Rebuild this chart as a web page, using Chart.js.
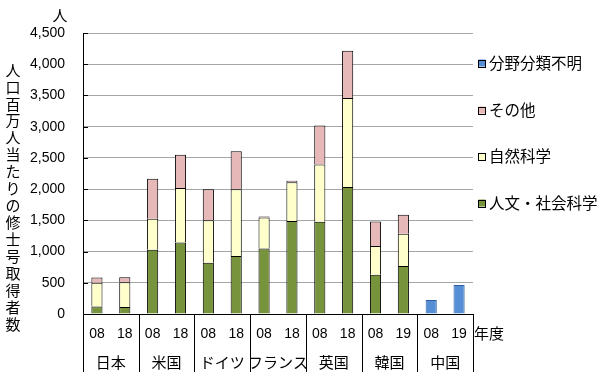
<!DOCTYPE html>
<html>
<head>
<meta charset="utf-8">
<script src="https://cdn.jsdelivr.net/npm/chart.js@4/dist/chart.umd.min.js"></script>
<style>
html,body{margin:0;padding:0;background:#fff;}
#wrap{width:600px;height:372px;position:relative;}
</style>
</head>
<body>
<div id="wrap"><canvas id="c" width="600" height="372"></canvas></div>
<script>
const categories = ['08','18','08','18','08','18','08','18','08','18','08','19','08','19'];
const groups = ['日本','米国','ドイツ','フランス','英国','韓国','中国'];
const humanities = [120, 112, 1030, 1147, 822, 928, 1050, 1489, 1478, 2034, 629, 769, null, null];
const science    = [380, 395, 496, 871, 678, 1068, 495, 620, 918, 1425, 460, 517, null, null];
const other      = [85, 80, 641, 533, 496, 609, 15, 25, 624, 758, 394, 304, null, null];
const unknown    = [null, null, null, null, null, null, null, null, null, null, null, null, 224, 464];
const seriesNames = ['人文・社会科学','自然科学','その他','分野分類不明'];
const yTitle = '人口百万人当たりの修士号取得者数';
const yUnit = '人';
const xUnit = '年度';

const CJK = '"Noto Sans CJK JP", sans-serif';
const NUM = '"Liberation Sans", Arial, sans-serif';

const deco = {
  id: 'deco',
  afterDraw(chart) {
    const ctx = chart.ctx, xs = chart.scales.x, ys = chart.scales.y, ca = chart.chartArea;
    ctx.save();
    ctx.strokeStyle = '#000'; ctx.lineWidth = 1;
    ys.ticks.forEach(t => {
      const py = Math.round(ys.getPixelForValue(t.value)) + 0.5;
      ctx.beginPath(); ctx.moveTo(ca.left, py); ctx.lineTo(ca.left + 5, py); ctx.stroke();
    });
    const half = (xs.getPixelForValue(1) - xs.getPixelForValue(0)) / 2;
    for (let g = 0; g <= groups.length; g++) {
      const px = g < groups.length ? xs.getPixelForValue(g * 2) - half : xs.getPixelForValue(g * 2 - 1) + half;
      const rx = Math.round(px) + 0.5;
      ctx.beginPath(); ctx.moveTo(rx, ca.bottom); ctx.lineTo(rx, chart.height); ctx.stroke();
    }
    ctx.fillStyle = '#000';
    ctx.font = '15px ' + CJK;
    ctx.textAlign = 'center'; ctx.textBaseline = 'middle';
    groups.forEach((g, i) => {
      const cx = (xs.getPixelForValue(i * 2) + xs.getPixelForValue(i * 2 + 1)) / 2;
      ctx.fillText(g, cx, 362);
    });
    ctx.textAlign = 'left';
    ctx.fillText(xUnit, ca.right + 1, 333);
    ctx.textAlign = 'center';
    ctx.fillText(yUnit, 60, 15);
    const chars = Array.from(yTitle);
    chars.forEach((ch, i) => {
      ctx.fillText(ch, 13, 70 + i * 16.93);
    });
    ctx.font = '15.5px ' + CJK;
    const ly = [63, 110, 156.5, 203];
    const ds = chart.data.datasets.slice().reverse();
    ds.forEach((d, i) => {
      const y = ly[i];
      ctx.fillStyle = d.backgroundColor;
      ctx.fillRect(478.5, y - 3.5, 7, 7);
      ctx.strokeStyle = '#000';
      ctx.strokeRect(478.5, Math.round(y - 3.5) + 0.5, 7, 7);
      ctx.fillStyle = '#000';
      ctx.textAlign = 'left';
      ctx.fillText(d.label, 489, y);
    });
    ctx.restore();
  }
};

new Chart(document.getElementById('c'), {
  type: 'bar',
  data: {
    labels: categories,
    datasets: [
      { label: seriesNames[0], data: humanities, backgroundColor: '#77933C', borderColor: '#000', borderWidth: 1 },
      { label: seriesNames[1], data: science, backgroundColor: '#FFFFCC', borderColor: '#000', borderWidth: 1 },
      { label: seriesNames[2], data: other, backgroundColor: '#E6B9B8', borderColor: '#000', borderWidth: 1 },
      { label: seriesNames[3], data: unknown, backgroundColor: '#558ED5', borderColor: '#2F5E9E', borderWidth: 1 }
    ]
  },
  options: {
    responsive: false,
    animation: false,
    layout: { padding: { top: 33, right: 127, left: 0, bottom: 0 } },
    datasets: { bar: { barPercentage: 0.4, categoryPercentage: 1.0 } },
    plugins: { legend: { display: false }, tooltip: { enabled: false } },
    scales: {
      x: {
        stacked: true,
        grid: { display: false, drawTicks: false },
        border: { display: true, color: '#000', width: 1 },
        ticks: { color: '#000', font: { family: NUM, size: 14 }, padding: 12, maxRotation: 0, autoSkip: false },
        afterFit(s) { s.height = 58; }
      },
      y: {
        stacked: true,
        min: 0, max: 4500,
        grid: { color: '#A6A6A6', lineWidth: 1, drawTicks: false },
        border: { display: true, color: '#000', width: 1 },
        ticks: {
          stepSize: 500, color: '#000', padding: 18,
          font: { family: NUM, size: 14 },
          callback: v => v.toLocaleString('en-US')
        },
        afterFit(s) { s.width = 83; }
      }
    }
  },
  plugins: [deco]
});
</script>
</body>
</html>
